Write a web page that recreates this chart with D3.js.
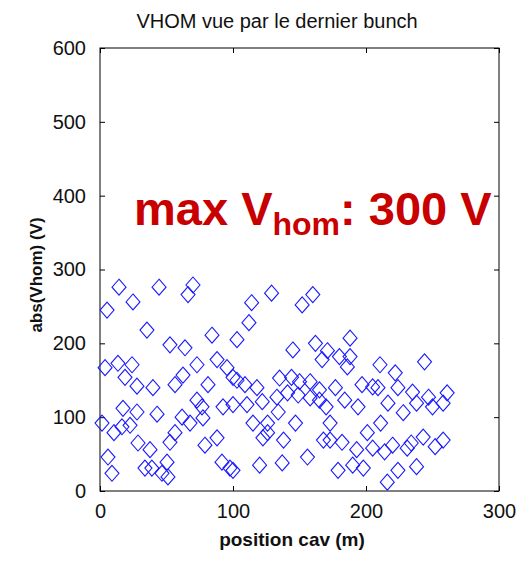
<!DOCTYPE html>
<html>
<head>
<meta charset="utf-8">
<script src="https://cdn.jsdelivr.net/npm/d3@7"></script>
<style>
  body { margin: 0; background: #fff; }
  svg { display: block; font-family: "Liberation Sans", Arial, sans-serif; }
</style>
</head>
<body>
<div id="chart"></div>
<script>
// position cav (m)
const positions = [
  14.3, 44.4, 69.9, 66.2, 24.8, 5.3, 35.3, 52.6, 63.9, 84.2, 103, 3.8, 13.5, 24.1, 18.8,
  27.8, 39.8, 56.4, 62.4, 72.9, 81.2, 88, 95.5, 100, 17.3, 27.8, 42.9, 1.5, 16.5, 22.6,
  10.5, 61.7, 67.7, 72.9, 76.7, 77.4, 92.5, 100, 56.4, 52.6, 28.6, 37.6, 78.9, 88, 6,
  9, 33.8, 39, 50.4, 46.6, 51.1, 91.7, 97.7,
  114, 129, 112, 152, 160, 145, 162, 171, 167, 180, 188, 188, 186, 210.5, 222, 244,
  103, 109, 118, 135, 144, 150, 158, 165, 177, 197, 205, 209, 224, 235, 247, 261,
  110.5, 122, 133, 141, 149, 158, 165, 170, 184, 194, 216.5, 228, 238, 250, 258,
  115, 126, 134, 147, 173, 201, 211, 243, 258, 122.5, 126, 138, 168, 173, 182, 193,
  205, 214, 220, 231, 234, 252, 120, 137, 156, 100, 179, 190, 198, 224, 238, 216
];
// abs(Vhom) (V)
const values = [
  276, 276, 279, 266, 256, 245, 218, 198, 194, 211, 205, 167, 173, 171, 154,
  142, 140, 144, 157, 171, 144, 178, 167, 154, 112, 107, 104, 92, 87, 89,
  79, 100, 92, 123, 114, 99, 114, 117, 79, 66, 65, 56, 62, 72, 46,
  24, 31, 31, 39, 24, 19, 39, 31,
  255, 268, 228, 252, 266, 191, 200, 190, 178, 182, 207, 182, 168, 171, 160, 175,
  150, 144, 140, 153, 154, 148, 148, 137, 140, 144, 141, 140, 140, 134, 127, 133,
  117, 121, 127, 133, 130, 126, 123, 114, 123, 114, 119, 106, 119, 114, 119,
  92, 92, 107, 92, 92, 79, 92, 73, 69, 72, 79, 69, 69, 69, 66, 56,
  58, 53, 62, 58, 65, 60, 35, 38, 46, 28, 28, 35, 31, 28, 33, 12
];
const xTickValues = [0, 100, 200, 300];
const yTickValues = [0, 100, 200, 300, 400, 500, 600];

const width = 529, height = 562;
const margin = { top: 48, right: 30, bottom: 71, left: 100 };

const svg = d3.select("#chart").append("svg")
  .attr("width", width)
  .attr("height", height);

const x = d3.scaleLinear().domain([0, 300]).range([margin.left, width - margin.right]);
const y = d3.scaleLinear().domain([0, 600]).range([height - margin.bottom, margin.top]);

// axes box
svg.append("rect")
  .attr("x", margin.left).attr("y", margin.top)
  .attr("width", width - margin.left - margin.right)
  .attr("height", height - margin.top - margin.bottom)
  .attr("fill", "#fff").attr("stroke", "#000").attr("stroke-width", 1);

const tickLen = 5;
const styleAxis = (g) => {
  g.select(".domain").remove();
  g.selectAll(".tick line").attr("stroke", "#000");
  g.selectAll(".tick text").attr("font-size", 20).attr("fill", "#111");
};

svg.append("g")
  .attr("transform", `translate(0,${height - margin.bottom})`)
  .call(d3.axisBottom(x).tickValues(xTickValues).tickSize(-tickLen).tickPadding(13))
  .call(styleAxis);
svg.append("g")
  .attr("transform", `translate(0,${margin.top})`)
  .call(d3.axisTop(x).tickValues(xTickValues).tickSize(-tickLen).tickFormat(""))
  .call(styleAxis);
svg.append("g")
  .attr("transform", `translate(${margin.left},0)`)
  .call(d3.axisLeft(y).tickValues(yTickValues).tickSize(-tickLen).tickPadding(14))
  .call(styleAxis);
svg.append("g")
  .attr("transform", `translate(${width - margin.right},0)`)
  .call(d3.axisRight(y).tickValues(yTickValues).tickSize(-tickLen).tickFormat(""))
  .call(styleAxis);

// diamond markers
const diamond = "M0,-8L7,0L0,8L-7,0Z";
svg.append("g")
  .selectAll("path")
  .data(positions.map((p, i) => ({ x: p, y: values[i] })))
  .join("path")
  .attr("d", diamond)
  .attr("transform", (d) => `translate(${x(d.x)},${y(d.y)})`)
  .attr("fill", "none")
  .attr("stroke", "#1a1aff")
  .attr("stroke-width", 1.1);

// title and labels
svg.append("text")
  .attr("x", 277).attr("y", 28)
  .attr("text-anchor", "middle")
  .attr("font-size", 20)
  .attr("fill", "#111")
  .text("VHOM vue par le dernier bunch");

svg.append("text")
  .attr("x", 292).attr("y", 546)
  .attr("text-anchor", "middle")
  .attr("font-size", 19)
  .attr("font-weight", "bold")
  .attr("fill", "#111")
  .text("position cav (m)");

svg.append("text")
  .attr("transform", "rotate(-90)")
  .attr("x", -275).attr("y", 42)
  .attr("text-anchor", "middle")
  .attr("font-size", 17)
  .attr("font-weight", "bold")
  .attr("fill", "#111")
  .text("abs(Vhom) (V)");

const note = svg.append("text")
  .attr("x", 134).attr("y", 225)
  .attr("font-size", 47)
  .attr("font-weight", "bold")
  .attr("fill", "#c80000");
note.append("tspan").text("max V");
note.append("tspan").attr("font-size", 32).attr("dy", 10).text("hom");
note.append("tspan").attr("dy", -10).text(": 300 V");
</script>
</body>
</html>
